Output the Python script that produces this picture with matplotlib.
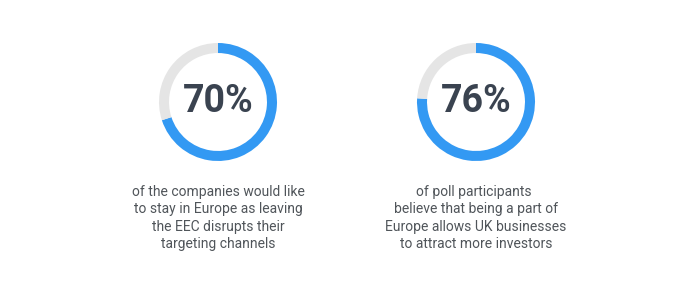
import matplotlib
matplotlib.use('Agg')
import matplotlib.pyplot as plt

# chart data
percents = [70, 76]
captions = [
    'of the companies would like\nto stay in Europe as leaving\nthe EEC disrupts their\ntargeting channels',
    'of poll participants \nbelieve that being a part of\nEurope allows UK businesses\nto attract more investors',
]
centers_x = [218, 476]

blue = '#3399f3'
grey = '#e5e5e5'
dark = '#3a4350'

W, H = 700, 290
fig = plt.figure(figsize=(7, 2.9), dpi=100)
fig.patch.set_facecolor('white')

r = 59
cy = 102
for pct, cap, cx in zip(percents, captions, centers_x):
    ax = fig.add_axes([(cx - r) / W, (H - cy - r) / H, 2 * r / W, 2 * r / H])
    ax.pie([pct, 100 - pct], colors=[blue, grey], startangle=90, counterclock=False,
           radius=1, wedgeprops=dict(width=0.17, linewidth=0))
    ax.set_xlim(-1, 1)
    ax.set_ylim(-1, 1)
    ax.set_aspect('equal')
    ax.axis('off')
    ax.text(0, 0.01, f'{pct}%', ha='center', va='center', fontsize=27, fontweight='bold',
            color=dark, family=['Roboto', 'DejaVu Sans'], fontstretch='condensed')

    fig.text(cx / W, (H - 185) / H, cap, ha='center', va='top', fontsize=10,
             family=['Roboto', 'DejaVu Sans'], color='#50555a', linespacing=1.3)

fig.savefig('out.png', dpi=100, facecolor='white')
